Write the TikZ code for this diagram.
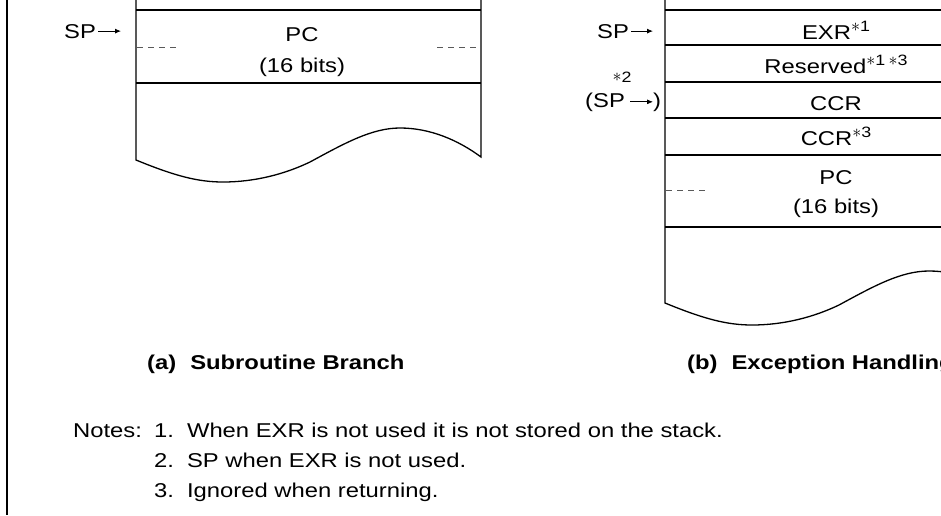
\documentclass[tikz,border=0pt]{standalone}
\usepackage{fontspec}
\setmainfont[FakeStretch=1.19]{Liberation Sans}
\usetikzlibrary{arrows.meta}
\newcommand{\nt}[1]{\raisebox{0.36em}{\fontsize{15}{17}\selectfont\raisebox{0.05em}{\scalebox{1.25}{$\ast$}}#1}}

\begin{document}
\begin{tikzpicture}[x=1pt, y=-1pt,
  every node/.style={font=\fontsize{20}{24}\selectfont, inner sep=0pt},
  txt/.style={anchor=base},
  capt/.style={anchor=base west, font=\fontsize{20}{24}\selectfont\bfseries},
  stk/.style={line width=1.3pt},
  dsh/.style={dash pattern=on 6pt off 5pt, gray!70!black, line width=0.9pt},
  ptr/.style={-{Latex[length=6pt,width=5pt]}, line width=0.8pt}]
  \path[use as bounding box, clip] (0,0) rectangle (941,515);
  \draw[line width=2pt] (7,0) -- (7,515);

  % (a) subroutine branch
  \draw[stk] (136,0) -- (136,160) .. controls (175,176) and (198,182) .. (223,182)
    .. controls (255,182) and (285,174) .. (310,162)
    .. controls (345,143) and (372,128) .. (400,128)
    .. controls (430,128) and (458,140) .. (481,157) -- (481,0);
  \draw[stk] (136,10) -- (481,10);
  \draw[stk] (136,83) -- (481,83);
  \draw[dsh] (137,47) -- (176,47);
  \draw[dsh] (437,47) -- (476,47);
  \node[txt] (pcA) at (302,41) {PC};
  \node[txt] (bitsA) at (302,72) {(16 bits)};
  \node[txt, anchor=base west] (spA) at (64,38) {SP};
  \coordinate (spAend) at (121,30);
  \draw[ptr] ([xshift=2pt]spA.east) -- (spAend |- spA.east);
  \node[capt] (capA) at (147,369) {(a)\hspace{14pt}Subroutine Branch};

  % (b) exception handling
  \draw[stk] (665,0) -- (665,303) .. controls (704,319) and (727,325) .. (752,325)
    .. controls (784,325) and (814,317) .. (839,305)
    .. controls (874,286) and (901,271) .. (929,271)
    .. controls (959,271) and (987,283) .. (1010,300) -- (1010,0);
  \foreach \y in {10,45,82,118,155,227}
    \draw[stk] (665,\y) -- (1010,\y);
  \draw[dsh] (666,190) -- (705,190);
  \node[txt] (exr) at (836,39) {EXR\nt{1}};
  \node[txt] (rsv) at (836,73) {Reserved\nt{1}\,\nt{3}};
  \node[txt] (ccrA) at (836,110) {CCR};
  \node[txt] (ccrB) at (836,145) {CCR\nt{3}};
  \node[txt] (pcB) at (836,184) {PC};
  \node[txt] (bitsB) at (836,213) {(16 bits)};
  \node[txt, anchor=base west] (spB) at (597,38) {SP};
  \coordinate (spBend) at (653,30);
  \draw[ptr] ([xshift=2pt]spB.east) -- (spBend |- spB.east);
  \node[txt, font=\fontsize{15}{17}\selectfont] (ntwo) at (622,82) {\raisebox{0.05em}{\scalebox{1.25}{$\ast$}}2};
  \node[txt, anchor=base west] (spC) at (585,107) {(SP};
  \coordinate (spCend) at (653,100);
  \draw[ptr] ([xshift=5pt]spC.east) -- (spCend |- spC.east);
  \node[txt, anchor=base west] (parC) at (653,107) {)};
  \node[capt] (capB) at (687,369) {(b)\hspace{14pt}Exception Handling};

  % notes
  \node[txt, anchor=base west] (notes) at (73,437) {Notes:};
  \node[txt, anchor=base west] (noteA) at (154,437) {1.\hspace{13pt}When EXR is not used it is not stored on the stack.};
  \node[txt, anchor=base west] (noteB) at (154,467) {2.\hspace{13pt}SP when EXR is not used.};
  \node[txt, anchor=base west] (noteC) at (154,497) {3.\hspace{13pt}Ignored when returning.};
\end{tikzpicture}
\end{document}
